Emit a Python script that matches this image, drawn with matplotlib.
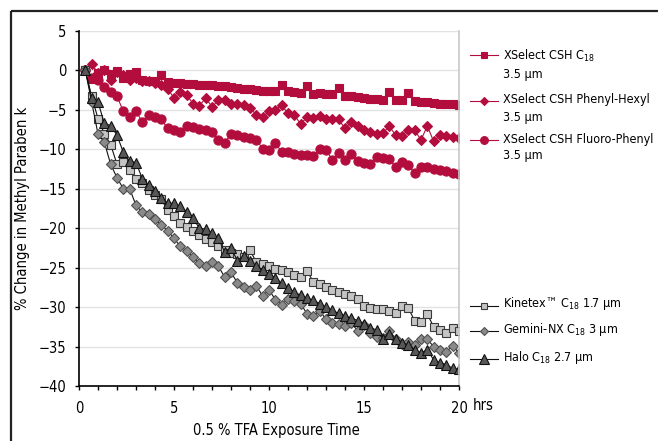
import matplotlib
matplotlib.use("Agg")
import matplotlib.pyplot as plt
from matplotlib import font_manager as fm
import numpy as np

# pick a narrow face if one is installed, the reference uses a condensed font
narrow = None
for f in fm.fontManager.ttflist:
    if f.style != 'normal' or f.weight not in (400, 'normal', 'regular'):
        continue
    if 'Narrow' in f.name or 'Condensed' in f.name or f.stretch in ('condensed', 'semi-condensed'):
        if narrow is None or 'Liberation' in f.name:
            narrow = f
if narrow is not None:
    plt.rcParams['font.family'] = [narrow.name, 'DejaVu Sans']
    plt.rcParams['font.stretch'] = narrow.stretch
    FS = 10.5
else:
    plt.rcParams['font.family'] = ['Roboto', 'DejaVu Sans']
    FS = 9.8
plt.rcParams['mathtext.default'] = 'regular'

# sampling every 20 min
hours = np.arange(1, 61) / 3

csh_c18 = [0.0, -1.1, -0.3, 0.0, -0.5, -0.1, -0.9, -0.5, -0.2, -1.2,
           -1.4, -1.4, -0.6, -1.5, -1.6, -1.6, -1.7, -1.7, -1.8, -1.8,
           -1.9, -2.0, -2.0, -2.1, -2.2, -2.3, -2.4, -2.5, -2.6, -2.6,
           -2.6, -1.8, -2.6, -2.7, -2.9, -2.0, -3.0, -2.9, -3.0, -3.0,
           -2.2, -3.3, -3.3, -3.4, -3.5, -3.6, -3.6, -3.7, -2.7, -3.8,
           -3.8, -2.9, -3.9, -4.0, -4.0, -4.1, -4.2, -4.2, -4.3, -4.4]
phenyl_hexyl = [0.0, 0.8, -0.3, 0.1, -1.2, -0.15, -0.6, -1.2, -1.0, -1.3,
                -1.4, -1.6, -1.85, -2.3, -3.5, -2.7, -3.1, -4.2, -4.5, -3.5,
                -4.6, -3.8, -3.75, -4.2, -4.3, -4.4, -4.7, -5.65, -5.95, -5.2,
                -5.0, -4.4, -5.45, -5.65, -6.8, -5.9, -6.0, -5.8, -6.1, -6.1,
                -6.2, -7.35, -6.5, -7.05, -7.55, -7.8, -8.0, -7.9, -7.1, -8.2,
                -8.3, -7.5, -7.6, -8.8, -7.05, -9.0, -8.2, -8.3, -8.5, -8.6]
fluoro_phenyl = [0.0, -1.0, -1.2, -2.1, -2.7, -3.25, -5.2, -5.9, -5.2, -6.5,
                 -5.65, -5.9, -6.2, -7.35, -7.5, -7.8, -7.05, -7.15, -7.4, -7.6,
                 -7.8, -8.8, -9.15, -8.1, -8.2, -8.4, -8.55, -8.8, -9.9, -10.1,
                 -9.15, -10.4, -10.3, -10.6, -10.7, -10.7, -10.85, -9.9, -10.1, -11.3,
                 -10.45, -11.3, -10.65, -11.5, -11.75, -11.85, -11.0, -11.1, -11.2, -12.3,
                 -11.6, -12.0, -13.0, -12.2, -12.3, -12.45, -12.6, -12.8, -13.0, -13.1]
kinetex = [0.0, -3.3, -6.1, -8.0, -9.4, -11.9, -11.6, -12.6, -13.7, -14.3,
           -15.1, -15.8, -16.35, -17.7, -18.45, -19.3, -19.8, -20.35, -20.9, -21.35,
           -21.75, -22.3, -22.75, -23.1, -23.3, -23.7, -22.8, -24.3, -24.5, -24.8,
           -25.15, -25.35, -25.6, -25.9, -26.2, -25.4, -26.8, -27.1, -27.5, -27.8,
           -28.05, -28.3, -28.55, -29.0, -29.9, -30.1, -30.25, -30.3, -30.45, -30.7,
           -29.9, -30.15, -31.7, -31.85, -30.9, -32.5, -32.9, -33.3, -32.7, -33.0]
gemini = [0.0, -4.0, -8.05, -9.1, -11.9, -13.6, -15.0, -15.0, -17.1, -18.0,
          -18.2, -18.85, -19.6, -20.3, -21.3, -22.3, -22.9, -23.7, -24.45, -24.8,
          -24.25, -24.8, -26.2, -25.6, -26.9, -27.5, -27.8, -27.3, -28.6, -27.8,
          -29.05, -29.7, -29.0, -29.25, -29.55, -30.85, -31.1, -30.45, -31.55, -32.0,
          -32.1, -32.4, -32.0, -33.0, -32.3, -33.3, -33.75, -33.9, -33.0, -34.0,
          -34.7, -34.4, -34.8, -34.1, -34.1, -35.0, -35.4, -35.65, -34.9, -35.8]
halo = [0.0, -3.5, -4.0, -6.7, -7.0, -8.2, -10.4, -11.5, -11.7, -13.7,
        -14.5, -15.3, -16.2, -16.8, -16.85, -17.2, -17.9, -18.7, -20.0, -20.1,
        -20.6, -21.3, -23.0, -22.5, -24.1, -23.5, -24.2, -24.8, -25.25, -25.8,
        -26.3, -27.0, -27.6, -28.1, -28.5, -28.85, -29.15, -29.55, -30.0, -30.4,
        -30.8, -31.1, -31.4, -31.7, -32.1, -32.6, -32.9, -34.0, -33.4, -34.1,
        -34.5, -34.8, -35.4, -35.8, -35.4, -36.7, -37.05, -37.3, -37.75, -37.9]

RED = '#b30d3e'
W, H = 658, 441

# style of each series: (data, marker, size, face, edge, line)
series = [
    (csh_c18, 's', 6.0, RED, RED, RED),
    (phenyl_hexyl, 'D', 5.2, RED, RED, RED),
    (fluoro_phenyl, 'o', 6.6, RED, RED, RED),
    (kinetex, 's', 6.0, '#c4c4c4', '#3a3a3a', '#111111'),
    (gemini, 'D', 5.0, '#8a8a8a', '#505050', '#111111'),
    (halo, '^', 7.5, '#575757', '#111111', '#111111'),
]

fig = plt.figure(figsize=(W / 100, H / 100), dpi=100)
ax = fig.add_axes([79 / W, 1 - 386 / H, 380 / W, 355 / H])

for vals, mk, ms, fc, ec, lc in series:
    ax.plot(hours, vals, color=lc, lw=0.8, marker=mk, ms=ms,
            mfc=fc, mec=ec, mew=0.8)

ax.set_xlim(0, 20)
ax.set_ylim(-40, 5)
ax.set_xticks([0, 5, 10, 15, 20])
ax.set_xticks(np.arange(0, 21, 1), minor=True)
ax.set_yticks(np.arange(-40, 6, 5))
ax.tick_params(axis='both', which='both', direction='out', length=3,
               width=1, labelsize=FS, colors='black')
ax.tick_params(axis='x', pad=8)
ax.tick_params(axis='y', pad=6)
ax.grid(axis='y', color='#e2e2e2', lw=1)
ax.set_axisbelow(True)

ax.spines['top'].set_visible(False)
ax.spines['right'].set_color('#c8c8c8')
ax.spines['right'].set_linewidth(1.2)
ax.spines['left'].set_linewidth(1.2)
ax.spines['bottom'].set_linewidth(1.2)

ax.set_xlabel('0.5 % TFA Exposure Time', fontsize=FS)
ax.xaxis.set_label_coords(0.52, -0.105)
ax.set_ylabel('% Change in Methyl Paraben k', fontsize=FS)
ax.yaxis.set_label_coords(-0.128, 0.5)

# overlay in pixel coordinates for frame and legend
lax = fig.add_axes([0, 0, 1, 1], zorder=-1)
lax.set_xlim(0, W)
lax.set_ylim(H, 0)
lax.axis('off')
lax.plot([10.5, W], [10.5, 10.5], color='#222222', lw=1.6, solid_capstyle='butt')
lax.plot([10.5, 10.5], [10.5, H], color='#222222', lw=1.6, solid_capstyle='butt')

fig.text(473 / W, 1 - 405 / H, 'hrs', fontsize=FS, va='center', ha='left')

top = fig.add_axes([0, 0, 1, 1])
top.set_xlim(0, W)
top.set_ylim(H, 0)
top.axis('off')

# size legend text so the longest line gets the width it has in the picture
renderer = fig.canvas.get_renderer()
probe = top.text(0, 0, 'XSelect CSH Phenyl-Hexyl', fontsize=10)
probe_w = probe.get_window_extent(renderer).width
probe.remove()
LFS = min(10.5, 10 * 147 / probe_w)

legend_rows = [
    (0, 55, 'XSelect CSH C$_{18}$\n3.5 µm', 5.0),
    (1, 101, 'XSelect CSH Phenyl-Hexyl\n3.5 µm', 4.0),
    (2, 140, 'XSelect CSH Fluoro-Phenyl\n3.5 µm', 5.6),
    (3, 306, 'Kinetex™ C$_{18}$ 1.7 µm', 5.0),
    (4, 331, 'Gemini-NX C$_{18}$ 3 µm', 4.4),
    (5, 359, 'Halo C$_{18}$ 2.7 µm', 7.5),
]
for idx, y, label, ms in legend_rows:
    vals, mk, _, fc, ec, lc = series[idx]
    top.plot([470, 498], [y, y], color=lc, lw=0.8)
    top.plot([484], [y], marker=mk, ms=ms, mfc=fc, mec=ec, mew=0.8, color=lc)
    multi = '\n' in label
    top.text(503, y - 2 if not multi else y - 7.5, label, fontsize=LFS,
             va='center' if not multi else 'top', ha='left',
             linespacing=1.4)

fig.savefig('out.png', dpi=100)
